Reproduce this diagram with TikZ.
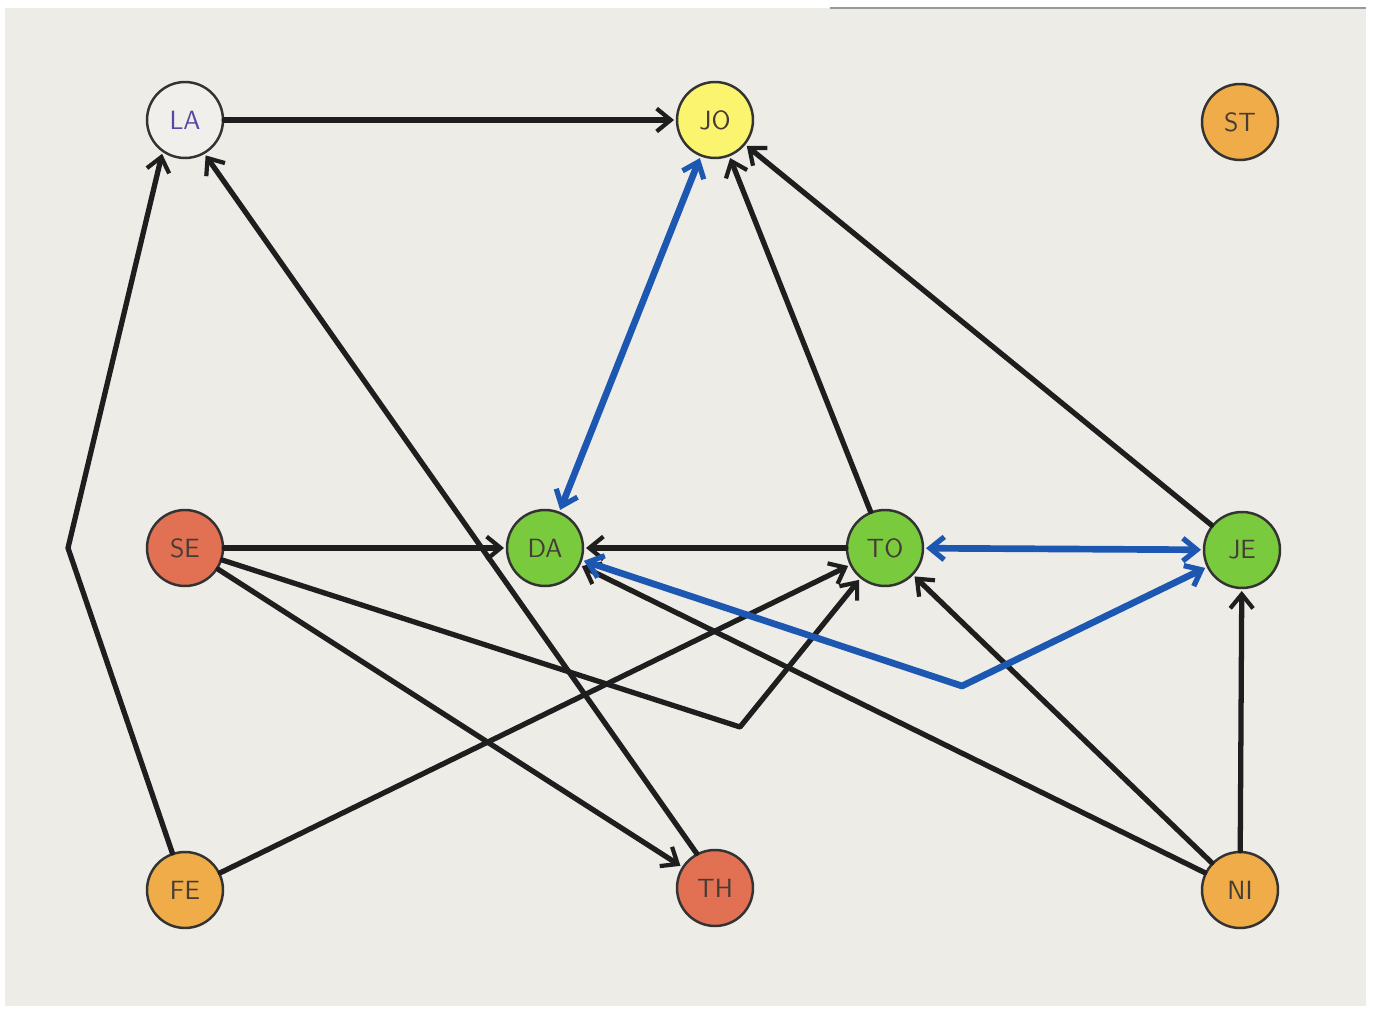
\documentclass[tikz,border=0pt]{standalone}
\usetikzlibrary{arrows.meta}
\definecolor{paper}{RGB}{238,236,231}
\definecolor{inkblack}{RGB}{30,30,30}
\definecolor{penblue}{RGB}{28,88,178}
\definecolor{nyellow}{RGB}{250,244,110}
\definecolor{norange}{RGB}{240,172,72}
\definecolor{nred}{RGB}{226,112,82}
\definecolor{ngreen}{RGB}{122,202,62}
\definecolor{nwhite}{RGB}{240,239,236}
\definecolor{labelpurple}{RGB}{90,70,160}
\definecolor{labelgray}{RGB}{70,60,55}
\tikzset{
  person/.style={circle, draw=black!80, line width=1.4pt, minimum size=1.52cm,
    inner sep=0pt, font=\fontsize{15}{15}\sffamily, text=labelgray},
  link/.style={draw=inkblack, line width=3pt, line cap=round, line join=round,
    -{Straight Barb[length=8pt,width=13pt,line width=2.4pt]}, shorten >=1pt},
  tie/.style={draw=penblue, line width=3.8pt, line cap=round, line join=round,
    {Straight Barb[length=8pt,width=13pt,line width=3pt]}-{Straight Barb[length=8pt,width=13pt,line width=3pt]},
    shorten >=1pt, shorten <=1pt}
}
\begin{document}
\begin{tikzpicture}[x=0.02cm,y=-0.02cm]
  % sheet
  \useasboundingbox (0,0) rectangle (1373,1016);
  \fill[white] (0,0) rectangle (1373,1016);
  \fill[paper] (5,8) rectangle (1366,1006);
  \draw[black!40, line width=1.5pt] (830,8) -- (1366,8);

  % people
  \node[person, fill=nwhite, text=labelpurple] (LA) at (185,120) {LA};
  \node[person, fill=nyellow] (JO) at (715,120) {JO};
  \node[person, fill=norange] (ST) at (1240,122) {ST};
  \node[person, fill=nred]    (SE) at (185,548) {SE};
  \node[person, fill=ngreen]  (DA) at (545,548) {DA};
  \node[person, fill=ngreen]  (TO) at (885,548) {TO};
  \node[person, fill=ngreen]  (JE) at (1242,550) {JE};
  \node[person, fill=norange] (FE) at (185,890) {FE};
  \node[person, fill=nred]    (TH) at (715,888) {TH};
  \node[person, fill=norange] (NI) at (1240,890) {NI};

  % bend points
  \coordinate (feBend) at (68,548);
  \coordinate (seBend) at (740,727);
  \coordinate (daBend) at (962,686);

  % one-way links
  \draw[link] (LA) -- (JO);
  \draw[link] (FE) -- (feBend) -- (LA.235);
  \draw[link] (TH.118) -- (LA.300);
  \draw[link] (TO) -- (JO);
  \draw[link] (JE) -- (JO);
  \draw[link] (SE) -- (DA);
  \draw[link] (TO) -- (DA);
  \draw[link] (NI) -- (DA);
  \draw[link] (FE) -- (TO);
  \draw[link] (SE) -- (seBend) -- (TO);
  \draw[link] (NI) -- (TO);
  \draw[link] (NI) -- (JE);
  \draw[link] (SE) -- (TH);

  % mutual links
  \draw[tie] (DA) -- (JO);
  \draw[tie] (TO) -- (JE);
  \draw[tie] (DA) -- (daBend) -- (JE);
\end{tikzpicture}
\end{document}
